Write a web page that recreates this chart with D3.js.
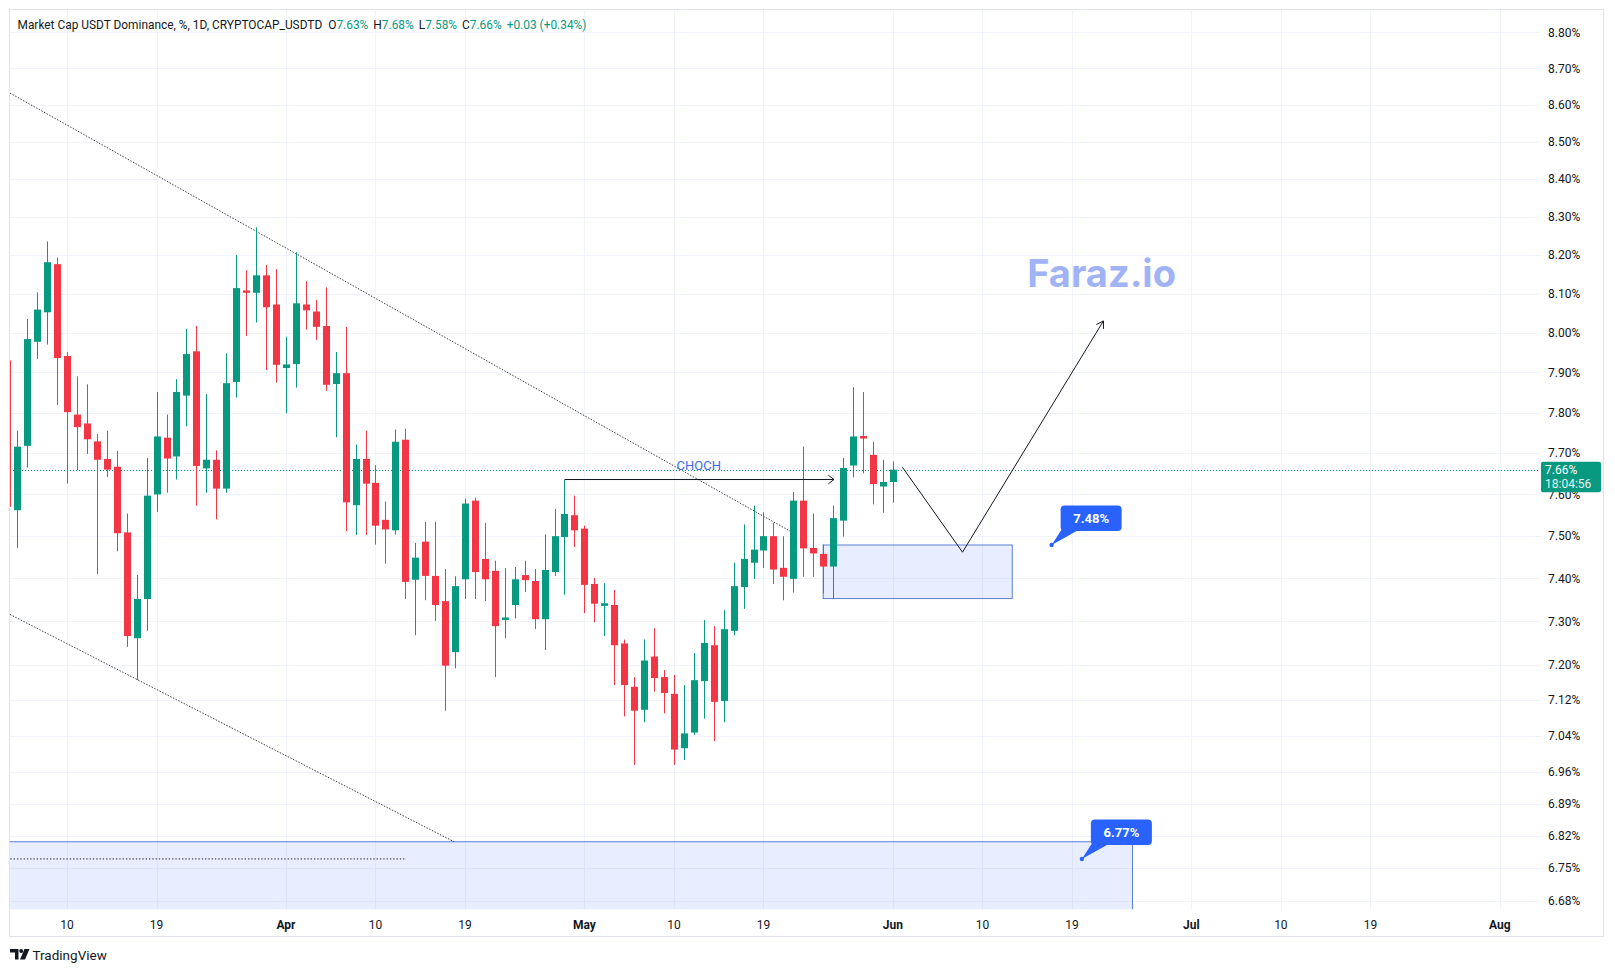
<!DOCTYPE html>
<html><head><meta charset="utf-8">
<script src="https://cdn.jsdelivr.net/npm/d3@7"></script>
<style>
body{margin:0;background:#fff;}
svg{display:block;font-family:Roboto,"Noto Sans",sans-serif;}
</style>
</head><body>
<svg id="c" width="1615" height="973"></svg>
<script>
// ---------- DATA ----------
const firstDay = "2023-03-04";
const lastDay = "2023-06-01";
const opens = [7.93,7.562,7.718,7.977,8.052,8.176,7.941,7.795,7.773,7.729,7.686,7.667,7.509,7.261,7.352,7.600,7.738,7.692,7.842,7.953,7.663,7.684,7.614,7.876,8.108,8.102,8.147,8.072,
  7.911,7.921,8.072,8.054,8.017,7.871,7.898,7.574,7.686,7.628,7.539,7.514,7.733,7.397,7.487,7.406,7.347,7.229,7.398,7.585,7.446,7.418,7.303,7.338,7.408,7.394,7.305,7.415,7.498,7.550,
  7.518,7.387,7.336,7.338,7.249,7.150,7.098,7.219,7.172,7.134,7.012,7.047,7.163,7.245,7.118,7.278,7.380,7.437,7.466,7.500,7.425,7.399,7.585,7.472,7.458,7.428,7.537,7.670,7.742,7.696,7.619,
  7.63];
const highs = [7.95,7.755,8.035,8.103,8.235,8.193,7.951,7.890,7.870,7.747,7.755,7.706,7.554,7.408,7.688,7.851,7.795,7.883,8.010,8.017,7.846,7.707,7.948,8.200,8.160,8.272,8.174,8.163,
  7.990,8.207,8.132,8.083,8.116,7.951,8.015,7.721,7.755,7.671,7.583,7.758,7.760,7.484,7.534,7.534,7.422,7.405,7.590,7.592,7.532,7.442,7.424,7.427,7.442,7.422,7.504,7.565,7.635,7.597,
  7.525,7.401,7.389,7.373,7.258,7.172,7.258,7.284,7.188,7.177,7.154,7.227,7.303,7.289,7.326,7.437,7.528,7.573,7.557,7.532,7.500,7.606,7.716,7.554,7.480,7.573,7.688,7.863,7.851,7.728,7.684,
  7.68];
const lows = [7.55,7.472,7.665,7.934,7.970,7.819,7.626,7.659,7.698,7.410,7.642,7.464,7.241,7.165,7.278,7.558,7.604,7.636,7.766,7.573,7.604,7.540,7.604,7.837,7.992,8.026,7.906,7.874,
  7.798,7.862,8.008,7.982,7.854,7.739,7.512,7.503,7.503,7.480,7.435,7.504,7.352,7.268,7.349,7.301,7.096,7.192,7.352,7.352,7.347,7.172,7.261,7.307,7.368,7.282,7.234,7.406,7.362,7.474,
  7.319,7.298,7.266,7.154,7.083,6.975,7.070,7.139,7.090,6.975,6.986,7.042,7.078,7.028,7.070,7.268,7.329,7.399,7.425,7.387,7.349,7.367,7.404,7.404,7.365,7.353,7.499,7.641,7.651,7.576,7.556,
  7.58];
const closes = [7.57,7.716,7.984,8.059,8.181,7.936,7.801,7.764,7.734,7.684,7.660,7.507,7.266,7.352,7.597,7.741,7.687,7.851,7.946,7.669,7.684,7.614,7.873,8.114,8.102,8.147,8.065,7.919,
  7.920,8.075,8.057,8.015,7.869,7.898,7.581,7.686,7.626,7.525,7.516,7.728,7.392,7.449,7.406,7.338,7.198,7.382,7.578,7.415,7.398,7.289,7.309,7.398,7.396,7.305,7.420,7.500,7.553,7.514,
  7.385,7.341,7.342,7.245,7.154,7.096,7.210,7.170,7.136,7.009,7.045,7.165,7.250,7.116,7.282,7.382,7.446,7.468,7.500,7.421,7.404,7.585,7.471,7.459,7.428,7.543,7.664,7.741,7.736,7.625,7.630,
  7.66];

const priceTicks = [8.80,8.70,8.60,8.50,8.40,8.30,8.20,8.10,8.00,7.90,7.80,7.70,7.60,7.50,7.40,7.30,7.20,7.12,7.04,6.96,6.89,6.82,6.75,6.68];
const dateTicks = ["2023-03-10","2023-03-19","2023-04-01","2023-04-10","2023-04-19","2023-05-01","2023-05-10","2023-05-19",
  "2023-06-01","2023-06-10","2023-06-19","2023-07-01","2023-07-10","2023-07-19","2023-08-01"];
const viewRange = ["2023-03-04T06:30","2023-08-05T01:00"];
const priceRange = [6.6627, 8.8625];

const titleText = "Market Cap USDT Dominance, %, 1D, CRYPTOCAP_USDTD";
const ohlcLabels = ["O","H","L","C"];
const ohlcValues = ["7.63%","7.68%","7.58%","7.66%"];
const changeText = "+0.03 (+0.34%)";
const lastPrice = 7.66;
const countdown = "18:04:56";

// drawings
const upperTrend = [["2023-03-04T06:30", 8.632], ["2023-05-21T16:00", 7.512]];
const lowerTrend = [["2023-03-04T06:30", 7.316], ["2023-04-17T21:36", 6.807]];
const supportZone = [["2023-02-28", 6.807], ["2023-06-25T02:00", 6.55]];
const supportLevel = [["2023-02-28", 6.77], ["2023-04-12T21:36", 6.77]];
const demandZone = [["2023-05-25", 7.479], ["2023-06-13", 7.353]];
const chochLine = [["2023-04-29", 7.636], ["2023-05-26T02:00", 7.636]];
const chochText = ["2023-05-12T12:00", 7.66, "CHOCH"];
const projection = [["2023-06-01T23:00", 7.666], ["2023-06-08", 7.462], ["2023-06-22T04:00", 8.03]];
const callouts = [["2023-06-16T23:00", 7.479, "7.48%"], ["2023-06-20", 6.77, "6.77%"]];
const watermark = ["2023-06-14T12:00", 8.117, "Faraz.io"];

// ---------- SETUP ----------
const parse = s => new Date(s + (s.length === 10 ? "T00:00:00Z" : ":00Z"));
const days = d3.utcDay.range(parse(firstDay), d3.utcDay.offset(parse(lastDay), 1));
const candles = days.map((d, i) => ({d, o: opens[i], h: highs[i], l: lows[i], c: closes[i]}));

const P = {l: 10, r: 1540, t: 10, b: 909.3};
const x = d3.scaleUtc().domain(viewRange.map(parse)).range([P.l, P.r]);
const y = d3.scaleLog().domain(priceRange).range([P.b, P.t]);

const UP = "#089981", DN = "#f23645", TXT = "#131722", GRID = "#f0f3fa";
const svg = d3.select("#c");

svg.append("rect").attr("width", 1615).attr("height", 973).attr("fill", "#fff");
svg.append("rect").attr("x", 9.5).attr("y", 9.5).attr("width", 1594).attr("height", 927)
  .attr("fill", "none").attr("stroke", "#e0e3eb");

const defs = svg.append("defs");
defs.append("clipPath").attr("id", "clip").append("rect")
  .attr("x", P.l).attr("y", P.t).attr("width", P.r - P.l).attr("height", P.b - P.t);

// grid
const grid = svg.append("g");
grid.selectAll(".hg").data(priceTicks).join("line")
  .attr("x1", P.l).attr("x2", P.r).attr("y1", d => Math.round(y(d)) + 0.5).attr("y2", d => Math.round(y(d)) + 0.5)
  .attr("stroke", GRID);
grid.selectAll(".vg").data(dateTicks.map(parse)).join("line")
  .attr("y1", P.t).attr("y2", P.b).attr("x1", d => Math.round(x(d)) + 0.5).attr("x2", d => Math.round(x(d)) + 0.5)
  .attr("stroke", GRID);

const plot = svg.append("g").attr("clip-path", "url(#clip)");
const line = d3.line().x(d => x(parse(d[0]))).y(d => y(d[1]));

// support zone (bottom)
plot.append("rect")
  .attr("x", x(parse(supportZone[0][0]))).attr("y", y(supportZone[0][1]))
  .attr("width", x(parse(supportZone[1][0])) - x(parse(supportZone[0][0])))
  .attr("height", y(supportZone[1][1]) - y(supportZone[0][1]))
  .attr("fill", "rgba(41,98,255,0.11)").attr("stroke", "#5b7fd3").attr("stroke-width", 1);
plot.append("path").attr("d", line(supportLevel)).attr("stroke", "#131722").attr("stroke-width", 1)
  .attr("stroke-dasharray", "1.3,2").attr("fill", "none");

// demand zone
plot.append("rect")
  .attr("x", x(parse(demandZone[0][0]))).attr("y", y(demandZone[0][1]))
  .attr("width", x(parse(demandZone[1][0])) - x(parse(demandZone[0][0])))
  .attr("height", y(demandZone[1][1]) - y(demandZone[0][1]))
  .attr("fill", "rgba(41,98,255,0.11)").attr("stroke", "#5b7fd3").attr("stroke-width", 1);

// trend lines
[upperTrend, lowerTrend].forEach(t => plot.append("path").attr("d", line(t))
  .attr("stroke", "#3a3d45").attr("stroke-width", 1).attr("stroke-dasharray", "1.5,1.5").attr("fill", "none"));

// last price line
plot.append("line").attr("x1", P.l).attr("x2", P.r)
  .attr("y1", Math.round(y(lastPrice)) + 0.5).attr("y2", Math.round(y(lastPrice)) + 0.5)
  .attr("stroke", UP).attr("stroke-dasharray", "1,2");

// candles
const cg = plot.append("g");
cg.selectAll(".w").data(candles).join("line")
  .attr("x1", d => Math.round(x(d.d)) + 0.5).attr("x2", d => Math.round(x(d.d)) + 0.5)
  .attr("y1", d => y(d.h)).attr("y2", d => y(d.l))
  .attr("stroke", d => d.c >= d.o ? UP : DN);
cg.selectAll(".b").data(candles).join("rect")
  .attr("x", d => Math.round(x(d.d)) - 3).attr("width", 7)
  .attr("y", d => y(Math.max(d.o, d.c)))
  .attr("height", d => Math.max(1, Math.abs(y(d.o) - y(d.c))))
  .attr("fill", d => d.c >= d.o ? UP : DN);

// CHOCH arrow
function arrowHead(g, x1, y1, x2, y2, len, spread) {
  const a = Math.atan2(y2 - y1, x2 - x1);
  const p1 = [x2 - len * Math.cos(a - spread), y2 - len * Math.sin(a - spread)];
  const p2 = [x2 - len * Math.cos(a + spread), y2 - len * Math.sin(a + spread)];
  g.append("path").attr("d", `M${p1}L${x2},${y2}L${p2}`).attr("fill", "none")
    .attr("stroke", "#131722").attr("stroke-width", 1);
}
plot.append("path").attr("d", line(chochLine)).attr("stroke", "#131722").attr("stroke-width", 1).attr("fill", "none");
arrowHead(plot, x(parse(chochLine[0][0])), y(chochLine[0][1]), x(parse(chochLine[1][0])), y(chochLine[1][1]), 7, 0.65);
plot.append("text").attr("x", x(parse(chochText[0]))).attr("y", y(chochText[1]))
  .attr("text-anchor", "middle").attr("font-size", 13).attr("fill", "#3d6ae8").text(chochText[2]);

// projection zigzag
plot.append("path").attr("d", line(projection)).attr("stroke", "#131722").attr("stroke-width", 1).attr("fill", "none");
{
  const n = projection.length;
  arrowHead(plot, x(parse(projection[n-2][0])), y(projection[n-2][1]), x(parse(projection[n-1][0])), y(projection[n-1][1]), 8, 0.55);
}

// watermark
plot.append("text").attr("x", x(parse(watermark[0]))).attr("y", y(watermark[1]))
  .attr("font-family", "Inter, Roboto, sans-serif").attr("font-weight", 700).attr("font-size", 38)
  .attr("fill", "#9fb3f6").text(watermark[2]);

// callouts
callouts.forEach(([dt, pr, label]) => {
  const px = x(parse(dt)), py = y(pr);
  const g = svg.append("g");
  const bx = px + 9, by = py - 39.5, bw = 61, bh = 25.5;
  g.append("path").attr("d", `M${px},${py}L${bx + 2},${by + bh - 3}L${bx + 16},${by + bh}Z`).attr("fill", "#2962ff");
  g.append("circle").attr("cx", px).attr("cy", py).attr("r", 2.2).attr("fill", "#2962ff");
  g.append("rect").attr("x", bx).attr("y", by).attr("width", bw).attr("height", bh).attr("rx", 4).attr("fill", "#2962ff");
  g.append("text").attr("x", bx + bw / 2).attr("y", by + bh / 2 + 4.5).attr("text-anchor", "middle")
    .attr("font-size", 13).attr("font-weight", 700).attr("fill", "#fff").text(label);
});

// price axis
const ya = svg.append("g");
ya.selectAll("text").data(priceTicks).join("text")
  .attr("x", 1548).attr("y", d => y(d) + 4.2).attr("font-size", 12).attr("fill", TXT)
  .text(d => d.toFixed(2) + "%");
// last price label
{
  const ly = y(lastPrice);
  ya.append("rect").attr("x", 1541).attr("y", ly - 8).attr("width", 60).attr("height", 30.5).attr("rx", 2).attr("fill", UP);
  ya.append("text").attr("x", 1545).attr("y", ly + 4.3).attr("font-size", 12).attr("fill", "#fff").text(lastPrice.toFixed(2) + "%");
  ya.append("text").attr("x", 1545).attr("y", ly + 18.5).attr("font-size", 12).attr("fill", "#e3f4ef").text(countdown);
}

// time axis
const fmt = d => d.getUTCDate() === 1 ? d3.utcFormat("%b")(d) : String(d.getUTCDate());
svg.append("g").selectAll("text").data(dateTicks.map(parse)).join("text")
  .attr("x", d => x(d)).attr("y", 928.5).attr("text-anchor", "middle").attr("font-size", 12)
  .attr("font-weight", d => d.getUTCDate() === 1 ? 700 : 400).attr("fill", TXT).text(fmt);

// header
const hdr = svg.append("text").attr("x", 17.5).attr("y", 28.5).attr("font-size", 11.9).attr("fill", TXT);
hdr.append("tspan").text(titleText);
ohlcLabels.forEach((lab, i) => {
  hdr.append("tspan").attr("dx", i === 0 ? 6 : 5).attr("fill", TXT).text(lab);
  hdr.append("tspan").attr("fill", UP).text(ohlcValues[i]);
});
hdr.append("tspan").attr("dx", 5).attr("fill", UP).text(changeText);

// TradingView footer
const logo = svg.append("g").attr("transform", "translate(10,949)").attr("fill", TXT);
logo.append("path").attr("d", "M0,0H8.5V10.5H5V3.5H0Z");
logo.append("circle").attr("cx", 11.2).attr("cy", 2).attr("r", 2);
logo.append("path").attr("d", "M14.5,0H19.5L15,10.5H10Z");
svg.append("text").attr("x", 32.5).attr("y", 959.5).attr("font-size", 13.5).attr("fill", TXT).text("TradingView");
</script>
</body></html>
